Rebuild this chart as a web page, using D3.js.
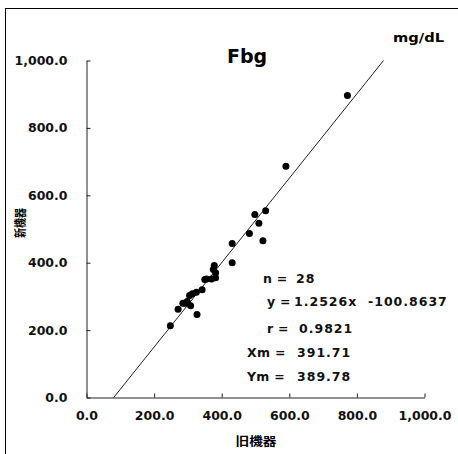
<!DOCTYPE html>
<html><head><meta charset="utf-8">
<script src="https://cdn.jsdelivr.net/npm/d3@7/dist/d3.min.js"></script>
<style>
html,body{margin:0;padding:0;background:#fff;}
svg{display:block;}
</style></head>
<body>
<svg id="chart" width="458" height="454"></svg>
<script>
const oldVals = [772,590,530,498,510,482,522,431,431,378,375,382,382,370,355,350,342,325,313,305,298,285,298,308,271,327,248,290];
const newVals = [896,686,554,543,517,487,465,457,400,392,380,370,355,352,352,350,320,312,308,303,285,280,280,272,262,246,213,280];
const xTicks = [0,200,400,600,800,1000];
const yTicks = [0,200,400,600,800,1000];
const slope = 1.2526, intercept = -100.8637;
const statLabels = ["n =","y =","r =","Xm =","Ym ="];
const statValues = ["28","1.2526x","0.9821","391.71","389.78"];
const interceptLabel = "-100.8637";
const title = "Fbg", unit = "mg/dL", xTitle = "旧機器", yTitle = "新機器";

const svg = d3.select("#chart");
const FONT = "'DejaVu Sans', Verdana, sans-serif";
const CJK = "'Noto Sans CJK JP', sans-serif";

// frame
svg.append("rect").attr("x",5.5).attr("y",8.5).attr("width",460).attr("height",460)
  .attr("fill","none").attr("stroke","#000").attr("stroke-width",1);

const x = d3.scaleLinear().domain([0,1000]).range([86.5,424.5]);
const y = d3.scaleLinear().domain([0,1000]).range([397.5,60.5]);
const fmt = d3.format(",.1f");

const gx = svg.append("g").attr("transform",`translate(0,${y(0)})`)
  .call(d3.axisBottom(x).tickValues(xTicks).tickFormat(fmt).tickSizeInner(-4).tickSizeOuter(0).tickPadding(14));
const gy = svg.append("g").attr("transform",`translate(${x(0)},0)`)
  .call(d3.axisLeft(y).tickValues(yTicks).tickFormat(fmt).tickSizeInner(-4).tickSizeOuter(0).tickPadding(19));
[gx,gy].forEach(g=>{
  g.selectAll("path,line").attr("stroke","#222").attr("stroke-width",1);
  g.selectAll("text").attr("fill","#111").style("font-family",FONT).style("font-weight","bold").style("font-size","12.5px");
});

// regression line from y=0 to y=1000
const xStart = (0 - intercept)/slope, xEnd = (1000 - intercept)/slope;
svg.append("line")
  .attr("x1",x(xStart)).attr("y1",y(0)).attr("x2",x(xEnd)).attr("y2",y(1000))
  .attr("stroke","#222").attr("stroke-width",1);

// points
svg.append("g").selectAll("circle").data(oldVals.map((v,i)=>[v,newVals[i]])).join("circle")
  .attr("cx",d=>x(d[0])).attr("cy",d=>y(d[1])).attr("r",3.5).attr("fill","#000");

// title & unit
svg.append("text").attr("x",247).attr("y",63).attr("text-anchor","middle")
  .style("font-family",FONT).style("font-weight","bold").style("font-size","19px").text(title);
svg.append("text").attr("x",393).attr("y",42)
  .attr("textLength",51).attr("lengthAdjust","spacingAndGlyphs")
  .style("font-family",FONT).style("font-weight","bold").style("font-size","11.5px").text(unit);

// axis titles
svg.append("text").attr("x",256).attr("y",446).attr("text-anchor","middle")
  .attr("textLength",41).attr("lengthAdjust","spacingAndGlyphs")
  .style("font-family",CJK).style("font-weight","bold").style("font-size","12px").text(xTitle);
svg.append("text").attr("transform","translate(25,223) rotate(-90)").attr("text-anchor","middle")
  .attr("textLength",30).attr("lengthAdjust","spacingAndGlyphs")
  .style("font-family",CJK).style("font-weight","bold").style("font-size","12px").text(yTitle);

// stats
const labelX = [263,267,267,247,247];
const valueX = [296,294,299,297,297];
const baseY = [282.5,306,332.5,357,381];
const sg = svg.append("g").style("font-family",FONT).style("font-weight","bold")
  .style("font-size","12.5px").attr("fill","#111");
statLabels.forEach((l,i)=>{
  sg.append("text").attr("x",labelX[i]).attr("y",baseY[i]).style("letter-spacing","0.3px").text(l);
  sg.append("text").attr("x",valueX[i]).attr("y",baseY[i]).style("letter-spacing","1px").text(statValues[i]);
});
sg.append("text").attr("x",368).attr("y",baseY[1]).style("letter-spacing","1px").text(interceptLabel);
</script>
</body></html>
